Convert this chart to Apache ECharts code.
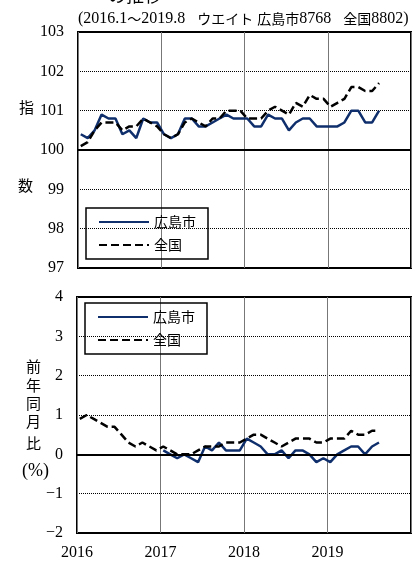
<!DOCTYPE html>
<html><head><meta charset="utf-8">
<script src="https://cdn.jsdelivr.net/npm/echarts@6/dist/echarts.min.js"></script>
<style>html,body{margin:0;padding:0;background:#fff}#c{width:415px;height:561px}</style>
</head><body><div id="c"></div>
<script>
// month index 0 = 2016.1 ... 43 = 2019.8
var years = ['2016','2017','2018','2019'];
var hiroIndex = [100.4,100.3,100.5,100.9,100.8,100.8,100.4,100.5,100.3,100.8,100.7,100.7,
 100.4,100.3,100.4,100.8,100.8,100.6,100.6,100.7,100.8,100.9,100.8,100.8,
 100.8,100.6,100.6,100.9,100.8,100.8,100.5,100.7,100.8,100.8,100.6,100.6,
 100.6,100.6,100.7,101.0,101.0,100.7,100.7,101.0];
var zenIndex = [100.1,100.2,100.5,100.7,100.7,100.7,100.5,100.6,100.6,100.8,100.7,100.6,
 100.4,100.3,100.4,100.7,100.8,100.7,100.6,100.8,100.8,101.0,101.0,101.0,
 100.8,100.8,100.8,101.0,101.1,101.0,100.9,101.2,101.1,101.4,101.3,101.3,
 101.1,101.2,101.3,101.6,101.6,101.5,101.5,101.7];
var hiroYoY = [null,null,null,null,null,null,null,null,null,null,null,null,
 0.1,0.0,-0.1,0.0,-0.1,-0.2,0.2,0.1,0.3,0.1,0.1,0.1,
 0.4,0.3,0.2,0.0,0.0,0.1,-0.1,0.1,0.1,0.0,-0.2,-0.1,
 -0.2,0.0,0.1,0.2,0.2,0.0,0.2,0.3];
var zenYoY = [0.9,1.0,0.9,0.8,0.7,0.7,0.5,0.3,0.2,0.3,0.2,0.1,
 0.2,0.1,0.0,0.0,0.0,0.1,0.2,0.2,0.2,0.3,0.3,0.3,
 0.4,0.5,0.5,0.4,0.3,0.2,0.3,0.4,0.4,0.4,0.3,0.3,
 0.4,0.4,0.4,0.6,0.5,0.5,0.6,0.6];

var OFF = 0.4;
function pts(arr){ return arr.map(function(v,i){ return [i+OFF, v]; }); }
var NAVY = '#0f2f6c';
var SERIF = '"Liberation Serif", serif';
var FONT = '"Liberation Serif", "Noto Sans CJK JP", serif';
var JFONT = '"Noto Sans CJK JP", sans-serif';

function xAx(g, showLabel){
  return {gridIndex:g, type:'value', min:0, max:48, interval:12,
    axisLine:{show:false}, axisTick:{show:false},
    axisLabel:{show:showLabel, color:'#000', fontSize:16, fontFamily:FONT, margin:12,
      formatter:function(v){ return years[v/12] || ''; }},
    splitLine:{show:true, lineStyle:{color:'#777', width:1, type:'solid'}}};
}
function yAx(g, mn, mx){
  return {gridIndex:g, type:'value', min:mn, max:mx, interval:1,
    axisLine:{show:false}, axisTick:{show:false},
    axisLabel:{color:'#000', fontSize:16, fontFamily:FONT, margin:14,
      formatter:function(v){ return v<0 ? '\u2212'+Math.abs(v) : String(v); }},
    splitLine:{show:true, lineStyle:{color:'#000', width:1, type:'dotted'}}};
}
function base(g, val){
  return {type:'line', xAxisIndex:g, yAxisIndex:g, data:[], silent:true,
    markLine:{silent:true, symbol:['none','none'], label:{show:false},
      lineStyle:{color:'#000', width:2, type:'solid'}, data:[{yAxis:val}]}};
}
function ser(g, name, arr, dashed){
  return {type:'line', name:name, xAxisIndex:g, yAxisIndex:g, data:pts(arr),
    symbol:'none', showSymbol:false, connectNulls:false,
    lineStyle: dashed ? {color:'#000', width:2.5, type:[8,4]} : {color:NAVY, width:2.5, type:'solid'},
    itemStyle:{color: dashed ? '#000' : NAVY}};
}
function leg(left, top){
  return {left:left, top:top, orient:'vertical', data:['広島市','全国'],
    borderColor:'#000', borderWidth:1.5, padding:[7,12,7,12], itemGap:9,
    itemWidth:50, itemHeight:14, selectedMode:false,
    itemStyle:{opacity:0},
    textStyle:{fontSize:14, fontFamily:JFONT, color:'#000'}};
}
function txt(x, y, s, size){
  return {type:'text', left:x, top:y, style:{text:s, fontSize:size||15, fontFamily:JFONT, fill:'#000'}};
}

var chart = echarts.init(document.getElementById('c'));
chart.setOption({
  animation:false,
  grid:[
    {left:78, right:4, top:32, height:236, show:true, borderColor:'#000', borderWidth:2, backgroundColor:'transparent'},
    {left:77, right:4, top:297, height:237, show:true, borderColor:'#000', borderWidth:2, backgroundColor:'transparent'}
  ],
  xAxis:[xAx(0,false), xAx(1,true)],
  yAxis:[yAx(0,97,103), yAx(1,-2,4)],
  legend:[leg(86,208), leg(85,303)],
  series:[
    base(0,100), base(1,0),
    ser(0,'広島市',hiroIndex,false), ser(0,'全国',zenIndex,true),
    ser(1,'広島市',hiroYoY,false), ser(1,'全国',zenYoY,true)
  ],
  graphic:[
    {type:'text', left:108, top:-14, style:{text:'の推移', fontSize:18, fontFamily:JFONT, fill:'#000'}},
    {type:'text', left:78, top:11, style:{
      text:'{a|(2016.1}{j|～}{a|2019.8   }{j|ウエイト}{a| }{j|広島市}{a|8768   }{j|全国}{a|8802)}',
      rich:{
        a:{fontSize:16, fontFamily:SERIF, fill:'#000'},
        j:{fontSize:14, fontFamily:JFONT, fill:'#000'}
      }}},
    txt(19, 100, '指', 15),
    txt(18, 178, '数', 15),
    txt(26, 359, '前', 15),
    txt(26, 378, '年', 15),
    txt(26, 396, '同', 15),
    txt(26, 414, '月', 15),
    txt(26, 436, '比', 15),
    {type:'text', left:22, top:462, style:{text:'(%)', fontSize:18, fontFamily:SERIF, fill:'#000'}}
  ]
});
</script></body></html>
